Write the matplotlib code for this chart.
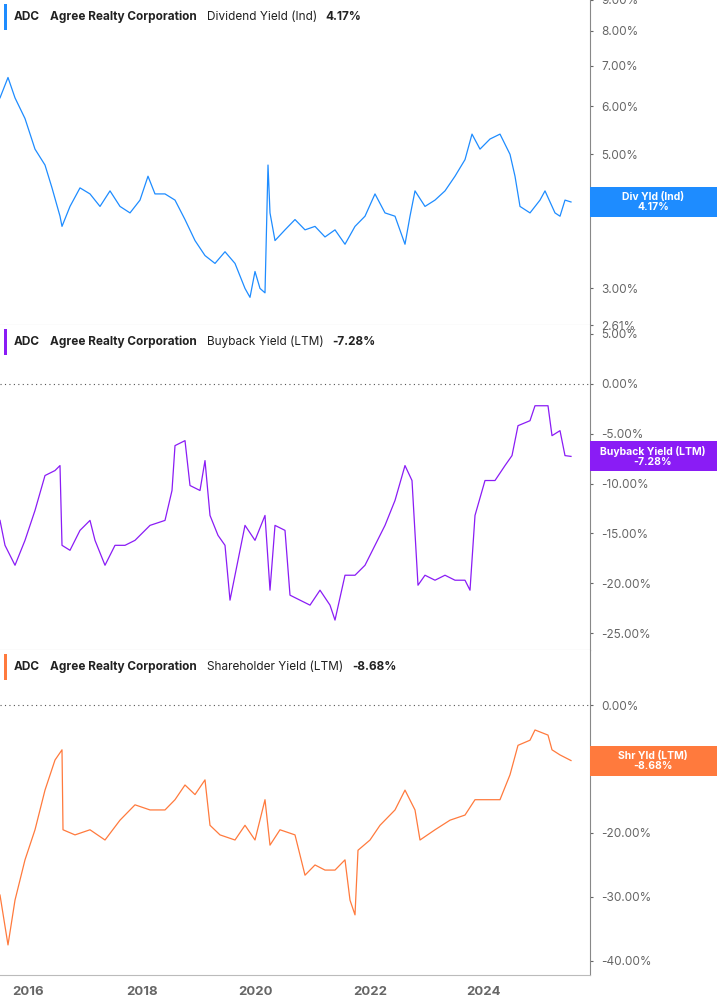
import matplotlib

matplotlib.use("Agg")
import matplotlib.pyplot as plt
from matplotlib.patches import Rectangle
from matplotlib.ticker import FixedLocator, NullLocator
import numpy as np

# x positions are read in pixels from the reference, converted to years below
div_px = [0, 8, 15, 25, 35, 45, 52, 60, 62, 70, 80, 90, 100, 110, 120, 130, 140, 148, 155, 165,
          175, 185, 195, 205, 215, 225, 235, 245, 250, 255, 260, 265, 268, 270, 275, 285, 295, 305,
          315, 325, 335, 345, 355, 365, 375, 385, 395, 405, 410, 415, 425, 435, 445, 455, 465, 472,
          480, 490, 500, 510, 515, 520, 530, 540, 545, 555, 560, 565, 571]
div_yld = [6.2, 6.7, 6.2, 5.73, 5.1, 4.8, 4.4, 3.95, 3.8, 4.1, 4.4, 4.3, 4.1, 4.35, 4.1, 4.0, 4.2,
           4.6, 4.3, 4.3, 4.2, 3.9, 3.6, 3.4, 3.3, 3.45, 3.3, 3.0, 2.9, 3.2, 3.0, 2.95, 4.8, 4.0,
           3.6, 3.75, 3.9, 3.75, 3.8, 3.65, 3.75, 3.55, 3.8, 3.95, 4.3, 4.0, 3.95, 3.55, 3.95, 4.35,
           4.1, 4.2, 4.35, 4.6, 4.9, 5.4, 5.1, 5.3, 5.4, 5.0, 4.6, 4.1, 4.0, 4.2, 4.35, 4.0, 3.95,
           4.2, 4.17]

bb_px = [0, 5, 15, 25, 35, 45, 55, 60, 62, 70, 80, 90, 95, 105, 115, 125, 135, 150, 165, 172, 175,
         185, 190, 200, 205, 210, 218, 225, 230, 235, 245, 255, 265, 270, 275, 285, 290, 300, 310,
         320, 330, 335, 345, 355, 365, 375, 385, 395, 405, 412, 418, 425, 435, 445, 455, 465, 470,
         475, 485, 495, 505, 512, 518, 530, 535, 548, 552, 560, 565, 571]
bb_yld = [-13.7, -16.2, -18.2, -15.7, -12.7, -9.2, -8.7, -8.2, -16.2, -16.7, -14.7, -13.7, -15.7,
          -18.2, -16.2, -16.2, -15.7, -14.2, -13.7, -10.7, -6.2, -5.7, -10.2, -10.7, -7.7, -13.2,
          -15.2, -16.2, -21.7, -19.2, -14.2, -15.7, -13.2, -20.7, -14.2, -14.7, -21.2, -21.7,
          -22.2, -20.7, -22.2, -23.7, -19.2, -19.2, -18.2, -16.2, -14.2, -11.7, -8.2, -9.7, -20.2,
          -19.2, -19.7, -19.2, -19.7, -19.7, -20.7, -13.2, -9.7, -9.7, -8.2, -7.2, -4.2, -3.7,
          -2.2, -2.2, -5.2, -4.7, -7.2, -7.28]

sh_px = [0, 8, 15, 25, 35, 45, 55, 62, 63, 75, 90, 105, 120, 135, 150, 165, 175, 185, 195, 205,
         210, 220, 235, 245, 255, 265, 270, 280, 295, 305, 315, 325, 335, 345, 350, 355, 358, 370,
         380, 395, 405, 415, 420, 435, 450, 465, 475, 490, 500, 510, 518, 530, 535, 548, 552, 560,
         571]
sh_yld = [-29.7, -37.5, -30.5, -24.2, -19.5, -13.3, -8.6, -7.0, -19.5, -20.3, -19.5, -21.1, -18.0,
          -15.6, -16.4, -16.4, -14.8, -12.5, -14.0, -11.7, -18.8, -20.3, -21.1, -18.8, -21.1,
          -14.8, -21.9, -19.5, -20.3, -26.6, -25.0, -25.8, -25.8, -24.2, -30.5, -32.8, -22.7,
          -21.1, -18.8, -16.4, -13.3, -16.4, -21.1, -19.5, -18.0, -17.2, -14.8, -14.8, -14.8,
          -10.9, -6.3, -5.5, -3.9, -4.7, -7.0, -7.8, -8.68]

X0, PX_PER_YEAR = 2015.51, 57.0
XLIM = (X0, X0 + 590 / PX_PER_YEAR)

W, H = 717, 1005
plt.rcParams["font.family"] = "Inter"
fig = plt.figure(figsize=(W / 100, H / 100), dpi=100)

GRAY = "#666666"


def px_axes(top, bottom):
    return fig.add_axes([0, 1 - bottom / H, 590 / W, (bottom - top) / H])


panels = [
    dict(top=0, bottom=325, px=div_px, y=div_yld, color="#1e8cff", log=True,
         ylim=(2.61, 9.0), ticks=[3, 4, 5, 6, 7, 8, 9, 2.61], label="Dividend Yield (Ind)",
         last="4.17%", tag="Div Yld (Ind)"),
    dict(top=325, bottom=650, px=bb_px, y=bb_yld, color="#8a1cf5", log=False,
         ylim=(-26.7, 5.9), ticks=[5, 0, -5, -10, -15, -20, -25], label="Buyback Yield (LTM)",
         last="-7.28%", tag="Buyback Yield (LTM)"),
    dict(top=650, bottom=975, px=sh_px, y=sh_yld, color="#ff7a3d", log=False,
         ylim=(-42.2, 8.6), ticks=[0, -10, -20, -30, -40], label="Shareholder Yield (LTM)",
         last="-8.68%", tag="Shr Yld (LTM)"),
]

renderer = fig.canvas.get_renderer()


def right_edge(t):
    return t.get_window_extent(renderer).x1 / W / (fig.dpi / 100)


for i, p in enumerate(panels):
    ax = px_axes(p["top"], p["bottom"])
    years = X0 + np.array(p["px"]) / PX_PER_YEAR
    ax.plot(years, p["y"], color=p["color"], lw=0.9)
    if p["log"]:
        ax.set_yscale("log")
    ax.set_ylim(*p["ylim"])
    ax.set_xlim(*XLIM)
    ax.yaxis.set_major_locator(FixedLocator(p["ticks"]))
    ax.yaxis.set_minor_locator(NullLocator())
    ax.set_yticklabels([f"{t:.2f}%" for t in p["ticks"]])
    ax.yaxis.tick_right()
    ax.tick_params(axis="y", length=2, colors=GRAY, labelsize=8.5, pad=6)
    for s in ["left", "top"]:
        ax.spines[s].set_visible(False)
    ax.spines["right"].set_color("#888888")
    ax.spines["bottom"].set_color("#bbbbbb")
    if not p["log"]:
        ax.axhline(0, color="#555555", lw=0.8, ls=(0, (1, 3)))
    if i < 2:
        ax.set_xticks([])
    else:
        ax.set_xticks([2016, 2018, 2020, 2022, 2024])
        ax.set_xticklabels(["2016", "2018", "2020", "2022", "2024"])
        ax.tick_params(axis="x", length=0, labelsize=9.5, colors=GRAY, pad=8)
        for lab in ax.get_xticklabels():
            lab.set_fontweight("bold")

    # title box
    ty = 1 - (p["top"] + 17) / H
    t1 = fig.text(14 / W, ty, "ADC", fontsize=8.5, fontweight="bold", va="center",
                  color="#222222")
    t2 = fig.text(right_edge(t1) + 10 / W, ty, "Agree Realty Corporation", fontsize=8.5,
                  fontweight="bold", va="center", color="#222222")
    t3 = fig.text(right_edge(t2) + 10 / W, ty, p["label"], fontsize=8.5, va="center",
                  color="#222222")
    t4 = fig.text(right_edge(t3) + 9 / W, ty, p["last"], fontsize=8.5, fontweight="bold",
                  va="center", color="#222222")
    box_w = right_edge(t4) + 10 / W - 4 / W
    fig.patches.append(Rectangle((4 / W, 1 - (p["top"] + 30) / H), box_w, 26 / H,
                                 transform=fig.transFigure, facecolor="white",
                                 edgecolor="#e4e4e4", lw=0.8, zorder=-1))
    fig.patches.append(Rectangle((4 / W, 1 - (p["top"] + 30) / H), 3 / W, 26 / H,
                                 transform=fig.transFigure, facecolor=p["color"], lw=0))

    # right value tag
    yd = ax.transData.transform((XLIM[1], p["y"][-1]))[1] / fig.dpi / (H / 100)
    fig.patches.append(Rectangle((590 / W, yd - 15 / H), 127 / W, 30 / H,
                                 transform=fig.transFigure, facecolor=p["color"], lw=0, zorder=3))
    fig.text(653 / W, yd, f"{p['tag']}\n{p['last']}", color="white", fontsize=7.5,
             fontweight="bold", ha="center", va="center", linespacing=1.0, zorder=4)

fig.savefig("out.png", dpi=100)
